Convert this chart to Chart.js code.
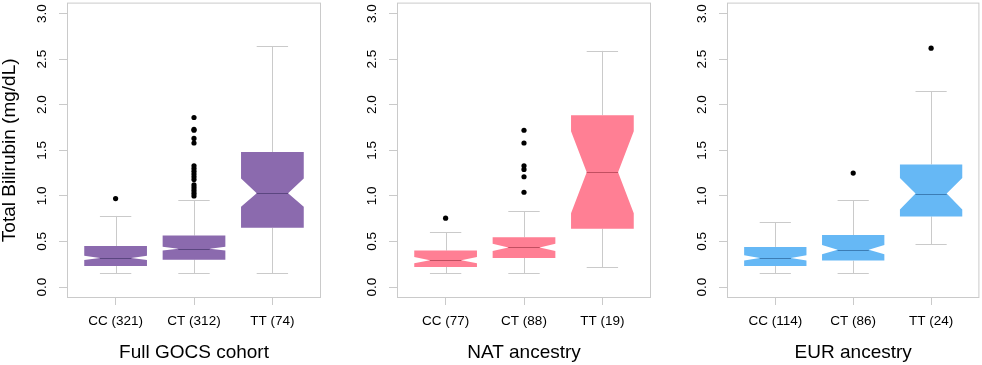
<!DOCTYPE html>
<html>
<head>
<meta charset="utf-8">
<script src="https://cdn.jsdelivr.net/npm/chart.js@4"></script>
<style>
  body { margin: 0; background: #fff; width: 982px; height: 365px; overflow: hidden; position: relative; }
  canvas { position: absolute; top: 0; }
</style>
</head>
<body>
<canvas id="p0" width="330" height="365" style="left:0"></canvas>
<canvas id="p1" width="330" height="365" style="left:330px"></canvas>
<canvas id="p2" width="322" height="365" style="left:660px"></canvas>
<script>
const groups = ['CC', 'CT', 'TT'];
const panelTitles = ['Full GOCS cohort', 'NAT ancestry', 'EUR ancestry'];
const counts = [[321, 312, 74], [77, 88, 19], [114, 86, 24]];
const yTicks = [0, 0.5, 1, 1.5, 2, 2.5, 3];

// box stats per panel: [CC, CT, TT]
const whiskerLow  = [[0.15, 0.15, 0.15], [0.15, 0.15, 0.22], [0.15, 0.15, 0.47]];
const q1          = [[0.23, 0.30, 0.65], [0.22, 0.32, 0.64], [0.23, 0.29, 0.775]];
const notchLow    = [[0.297, 0.400, 0.88], [0.26, 0.395, 0.81], [0.29, 0.36, 0.85]];
const medians     = [[0.32, 0.42, 1.03], [0.295, 0.435, 1.26], [0.32, 0.41, 1.025]];
const notchHigh   = [[0.343, 0.443, 1.19], [0.33, 0.475, 1.71], [0.35, 0.46, 1.195]];
const q3          = [[0.45, 0.565, 1.48], [0.40, 0.545, 1.885], [0.44, 0.57, 1.345]];
const whiskerHigh = [[0.78, 0.95, 2.64], [0.60, 0.83, 2.59], [0.71, 0.95, 2.15]];
const outliers = [
  [[0.97], [1.86, 1.73, 1.72, 1.63, 1.58, 1.33, 1.30, 1.27, 1.24, 1.21, 1.18, 1.12, 1.09, 1.06, 1.03, 1.00], []],
  [[0.755], [1.72, 1.58, 1.33, 1.29, 1.21, 1.04], []],
  [[], [1.25], [2.62]]
];

const fills = ['#8B6AAE', '#FF7F94', '#66B8F5'];
const medianColors = ['#5B4680', '#C24F61', '#3C7DB5'];
const gray = '#CACACA';
const FONT = "'Liberation Sans', Arial, sans-serif";

const boxPlugin = {
  id: 'boxes',
  beforeDatasetsDraw(chart) {
    const p = chart.options.plugins.boxes.panel;
    const { ctx, scales: { x, y } } = chart;
    const ux = v => x.getPixelForValue(v);
    groups.forEach((g, i) => {
      const c = i + 1;
      const cx = ux(c);
      const w = ux(c + 0.4) - cx;
      const s = ux(c + 0.2) - cx;
      ctx.save();
      // whiskers + staples
      ctx.strokeStyle = gray;
      ctx.lineWidth = 1;
      ctx.beginPath();
      const xc = Math.round(cx) + 0.5;
      ctx.moveTo(xc, y.getPixelForValue(whiskerHigh[p][i]));
      ctx.lineTo(xc, y.getPixelForValue(q3[p][i]));
      ctx.moveTo(xc, y.getPixelForValue(q1[p][i]));
      ctx.lineTo(xc, y.getPixelForValue(whiskerLow[p][i]));
      const yh = Math.round(y.getPixelForValue(whiskerHigh[p][i])) + 0.5;
      const yl = Math.round(y.getPixelForValue(whiskerLow[p][i])) + 0.5;
      ctx.moveTo(cx - s, yh); ctx.lineTo(cx + s, yh);
      ctx.moveTo(cx - s, yl); ctx.lineTo(cx + s, yl);
      ctx.stroke();
      // notched box
      const yQ1 = y.getPixelForValue(q1[p][i]);
      const yQ3 = y.getPixelForValue(q3[p][i]);
      const yNl = y.getPixelForValue(notchLow[p][i]);
      const yNh = y.getPixelForValue(notchHigh[p][i]);
      const yM = y.getPixelForValue(medians[p][i]);
      ctx.fillStyle = fills[p];
      ctx.beginPath();
      ctx.moveTo(cx - w, yQ1);
      ctx.lineTo(cx + w, yQ1);
      ctx.lineTo(cx + w, yNl);
      ctx.lineTo(cx + s, yM);
      ctx.lineTo(cx + w, yNh);
      ctx.lineTo(cx + w, yQ3);
      ctx.lineTo(cx - w, yQ3);
      ctx.lineTo(cx - w, yNh);
      ctx.lineTo(cx - s, yM);
      ctx.lineTo(cx - w, yNl);
      ctx.closePath();
      ctx.fill();
      // median
      ctx.strokeStyle = medianColors[p];
      ctx.beginPath();
      ctx.moveTo(cx - s, Math.round(yM) + 0.5);
      ctx.lineTo(cx + s, Math.round(yM) + 0.5);
      ctx.stroke();
      ctx.restore();
    });
  },
  afterDraw(chart) {
    const { ctx, chartArea: a, scales: { y } } = chart;
    ctx.save();
    ctx.strokeStyle = gray;
    ctx.lineWidth = 1;
    ctx.strokeRect(a.left + 0.5, a.top + 0.5, a.right - a.left - 1, a.bottom - a.top - 1);
    // rotated y tick labels, R style
    ctx.fillStyle = '#000';
    ctx.font = `13.5px ${FONT}`;
    ctx.textAlign = 'center';
    ctx.textBaseline = 'middle';
    y.ticks.forEach(t => {
      ctx.save();
      ctx.translate(42, y.getPixelForValue(t.value));
      ctx.rotate(-Math.PI / 2);
      ctx.fillText(t.value.toFixed(1), 0, 0);
      ctx.restore();
    });
    ctx.restore();
  }
};

const makePanel = (p) => {
  const points = [];
  outliers[p].forEach((list, i) => list.forEach(v => points.push({ x: i + 1, y: v })));

  new Chart(document.getElementById('p' + p), {
    type: 'scatter',
    data: {
      datasets: [{
        data: points,
        pointRadius: 2.6,
        pointHoverRadius: 2.6,
        backgroundColor: '#000',
        borderWidth: 0
      }]
    },
    plugins: [boxPlugin],
    options: {
      responsive: false,
      animation: false,
      devicePixelRatio: 1,
      layout: { padding: { top: 0, left: 0, bottom: 0, right: p === 2 ? 1 : 9 } },
      plugins: {
        legend: { display: false },
        tooltip: { enabled: false },
        boxes: { panel: p }
      },
      scales: {
        x: {
          type: 'linear',
          min: 0.38,
          max: 3.62,
          afterBuildTicks: s => { s.ticks = groups.map((g, i) => ({ value: i + 1 })); },
          afterFit: s => { s.height = 67; },
          ticks: {
            callback: v => `${groups[v - 1]} (${counts[p][v - 1]})`,
            font: { family: FONT, size: 13.5 },
            color: '#000',
            padding: 8,
            maxRotation: 0
          },
          grid: { drawOnChartArea: false, drawTicks: true, tickLength: 7, color: gray },
          border: { display: false },
          title: {
            display: true,
            text: panelTitles[p],
            font: { family: FONT, size: 19, lineHeight: 1.2 },
            color: '#000',
            padding: { top: 0, bottom: 1 }
          }
        },
        y: {
          min: -0.12,
          max: 3.12,
          afterBuildTicks: s => { s.ticks = yTicks.map(v => ({ value: v })); },
          afterFit: s => { s.width = 67; },
          ticks: { display: false },
          grid: { drawOnChartArea: false, drawTicks: true, tickLength: 8, color: gray },
          border: { display: false },
          title: {
            display: p === 0,
            text: 'Total Bilirubin (mg/dL)',
            font: { family: FONT, size: 19, lineHeight: 1.0 },
            color: '#000',
            padding: { top: 0, bottom: 0 }
          }
        }
      }
    }
  });
};

[0, 1, 2].forEach(makePanel);
</script>
</body>
</html>
